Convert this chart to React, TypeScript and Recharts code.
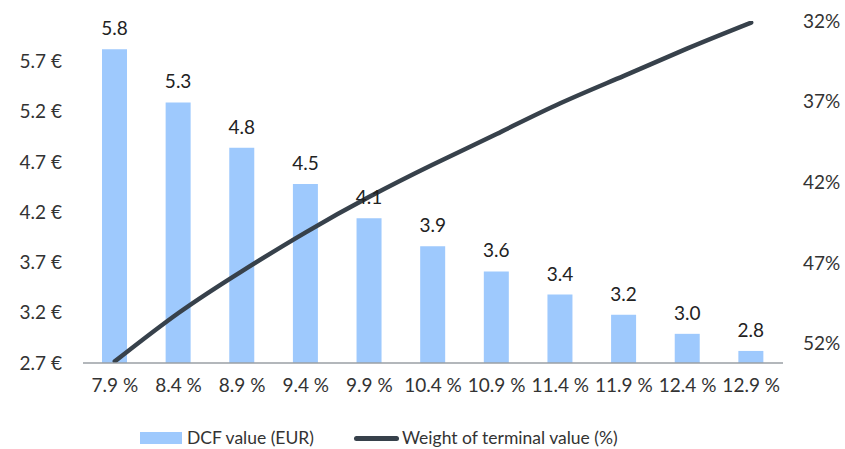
import React from 'react';
import { ComposedChart, Bar, Line, XAxis, YAxis, LabelList, Legend } from 'recharts';

const waccLabels = ['7.9 %', '8.4 %', '8.9 %', '9.4 %', '9.9 %', '10.4 %', '10.9 %', '11.4 %', '11.9 %', '12.4 %', '12.9 %'];
const dcfValues = [5.82, 5.29, 4.84, 4.48, 4.14, 3.86, 3.61, 3.38, 3.18, 2.99, 2.82];
const terminalWeight = [53.1, 50.1, 47.5, 45.1, 42.9, 40.9, 39.0, 37.1, 35.4, 33.7, 32.1];
const leftTicks = [2.7, 3.2, 3.7, 4.2, 4.7, 5.2, 5.7];
const rightTicks = [32, 37, 42, 47, 52];

const data = waccLabels.map((name, i) => ({
  name,
  dcf: dcfValues[i],
  weight: terminalWeight[i],
}));

const FONT = 'Lato, "Open Sans", sans-serif';
const BAR_COLOR = '#9ec9fd';
const LINE_COLOR = '#37414b';
const TEXT_COLOR = '#333333';

const LegendContent = () => (
  <div style={{ display: 'flex', alignItems: 'center', fontFamily: FONT, fontSize: 17.5, lineHeight: '18px', color: TEXT_COLOR }}>
    <span style={{ display: 'inline-block', width: 42, height: 12, background: BAR_COLOR, marginRight: 5 }} />
    <span style={{ marginRight: 40 }}>DCF value (EUR)</span>
    <span style={{ display: 'inline-block', width: 45, height: 5, borderRadius: 3, background: LINE_COLOR, marginRight: 3 }} />
    <span>Weight of terminal value (%)</span>
  </div>
);

export default function App() {
  return (
    <div style={{ position: 'absolute', left: 0, top: 0 }}>
      <ComposedChart
        width={845}
        height={449}
        data={data}
        margin={{ top: 21, right: 0, left: 0, bottom: 38 }}
        style={{ fontFamily: FONT }}
      >
        <XAxis
          dataKey="name"
          height={30}
          tickLine={false}
          tickSize={0}
          tickMargin={16}
          axisLine={{ stroke: '#9a9fa4', strokeWidth: 1.5 }}
          tick={{ fill: TEXT_COLOR, fontSize: 19 }}
          interval={0}
        />
        <YAxis
          yAxisId="left"
          width={83}
          domain={[2.7, 6.1]}
          ticks={leftTicks}
          allowDataOverflow
          axisLine={false}
          tickLine={false}
          tickSize={0}
          tickMargin={21}
          tick={{ fill: TEXT_COLOR, fontSize: 19 }}
          tickFormatter={(v: number) => `${v.toFixed(1)} €`}
        />
        <YAxis
          yAxisId="right"
          orientation="right"
          width={62}
          domain={[32, 53.2]}
          reversed
          ticks={rightTicks}
          allowDataOverflow
          axisLine={false}
          tickLine={false}
          tickSize={0}
          tickMargin={20}
          tick={{ fill: TEXT_COLOR, fontSize: 19 }}
          tickFormatter={(v: number) => `${v}%`}
        />
        <Legend
          content={<LegendContent />}
          wrapperStyle={{ top: 429, left: 140, width: 560, height: 18 }}
        />
        <Bar yAxisId="left" dataKey="dcf" name="DCF value (EUR)" fill={BAR_COLOR} barSize={25} isAnimationActive={false}>
          <LabelList
            dataKey="dcf"
            position="top"
            offset={14}
            fill="#222"
            fontSize={19}
            formatter={(v: number) => v.toFixed(1)}
          />
        </Bar>
        <Line
          yAxisId="right"
          dataKey="weight"
          name="Weight of terminal value (%)"
          type="natural"
          stroke={LINE_COLOR}
          strokeWidth={4.5}
          strokeLinecap="round"
          dot={false}
          activeDot={false}
          isAnimationActive={false}
        />
      </ComposedChart>
    </div>
  );
}
